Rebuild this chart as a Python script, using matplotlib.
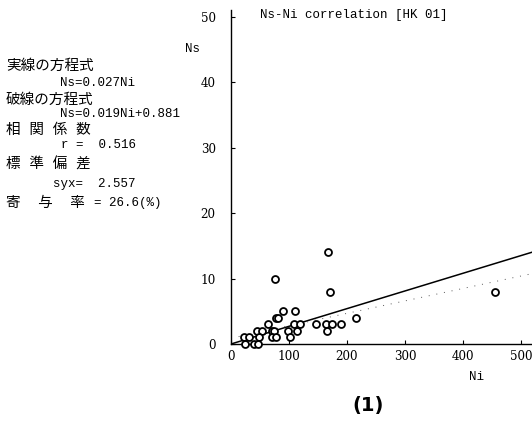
import matplotlib
matplotlib.use("Agg")
import matplotlib.pyplot as plt
import numpy as np

# Ns-Ni data (HK 01)
ni = [167, 76, 171, 456,
      90, 111,
      77, 81, 215,
      64, 108, 119, 146, 163, 174, 190,
      45, 54, 71, 74, 99, 114, 165,
      22, 31, 49, 71, 78, 102,
      25, 40, 46]
ns = [14, 10, 8, 8,
      5, 5,
      4, 4, 4,
      3, 3, 3, 3, 3, 3, 3,
      2, 2, 2, 2, 2, 2, 2,
      1, 1, 1, 1, 1, 1,
      0, 0, 0]

slope_solid = 0.027
slope_dash, icpt_dash = 0.019, 0.881

x_ticks = [0, 100, 200, 300, 400, 500]
y_ticks = [0, 10, 20, 30, 40, 50]

mono = ["Liberation Mono", "Noto Sans CJK JP"]
serif = ["DejaVu Serif", "Noto Sans CJK JP"]

W, H = 532, 426
fig = plt.figure(figsize=(W / 100, H / 100), dpi=100)


def px(x, y):
    return x / W, 1 - y / H


ax = fig.add_axes([231 / W, 82 / H, (W - 231) / W, 334 / H])
ax.set_xlim(0, 519)
ax.set_ylim(0, 51)

xx = np.array([0, 519])
ax.plot(xx, slope_solid * xx, color="black", lw=1.1)
ax.plot(xx, slope_dash * xx + icpt_dash, color="0.35", lw=0.7,
        linestyle=(0, (1, 7)))
ax.plot(ni, ns, "o", ms=5, mfc="white", mec="black", mew=1.3,
        clip_on=False, zorder=3)

for s in ["top", "right"]:
    ax.spines[s].set_visible(False)
ax.spines["left"].set_linewidth(1.0)
ax.spines["bottom"].set_linewidth(1.0)

ax.set_xticks(x_ticks)
ax.set_yticks(y_ticks)
ax.tick_params(axis="both", direction="in", length=3, width=0.8)
ax.tick_params(axis="y", pad=11)
ax.tick_params(axis="x", pad=4)
for lab in ax.get_xticklabels() + ax.get_yticklabels():
    lab.set_fontfamily(serif)
    lab.set_fontstretch("condensed")
    lab.set_fontsize(9.5)

# titles and axis labels
fig.text(*px(260, 15), "Ns-Ni correlation [HK 01]", family=mono,
         fontsize=9, va="center", ha="left")
fig.text(*px(192, 49), "Ns", family=mono, fontsize=9, va="center", ha="center")
fig.text(*px(477, 377), "Ni", family=mono, fontsize=9, va="center", ha="center")
fig.text(*px(368, 406), "(1)", family="DejaVu Sans", fontsize=14,
         fontweight="bold", va="center", ha="center")

# regression summary block
jp = dict(family=mono, fontsize=10.5, va="center", ha="left")
asc = dict(family=mono, fontsize=9, va="center", ha="left")
fig.text(*px(6, 66), "実線の方程式", **jp)
fig.text(*px(60, 83), "Ns=0.027Ni", **asc)
fig.text(*px(6, 100), "破線の方程式", **jp)
fig.text(*px(60, 114), "Ns=0.019Ni+0.881", **asc)
fig.text(*px(6, 130), "相 関 係 数", **jp)
fig.text(*px(61, 145), "r =  0.516", **asc)
fig.text(*px(6, 165), "標 準 偏 差", **jp)
fig.text(*px(53, 184), "syx=  2.557", **asc)
fig.text(*px(6, 203), "寄  与  率", **jp)
fig.text(*px(94, 203), "= 26.6(%)", **asc)

fig.savefig("out.png", dpi=100)
